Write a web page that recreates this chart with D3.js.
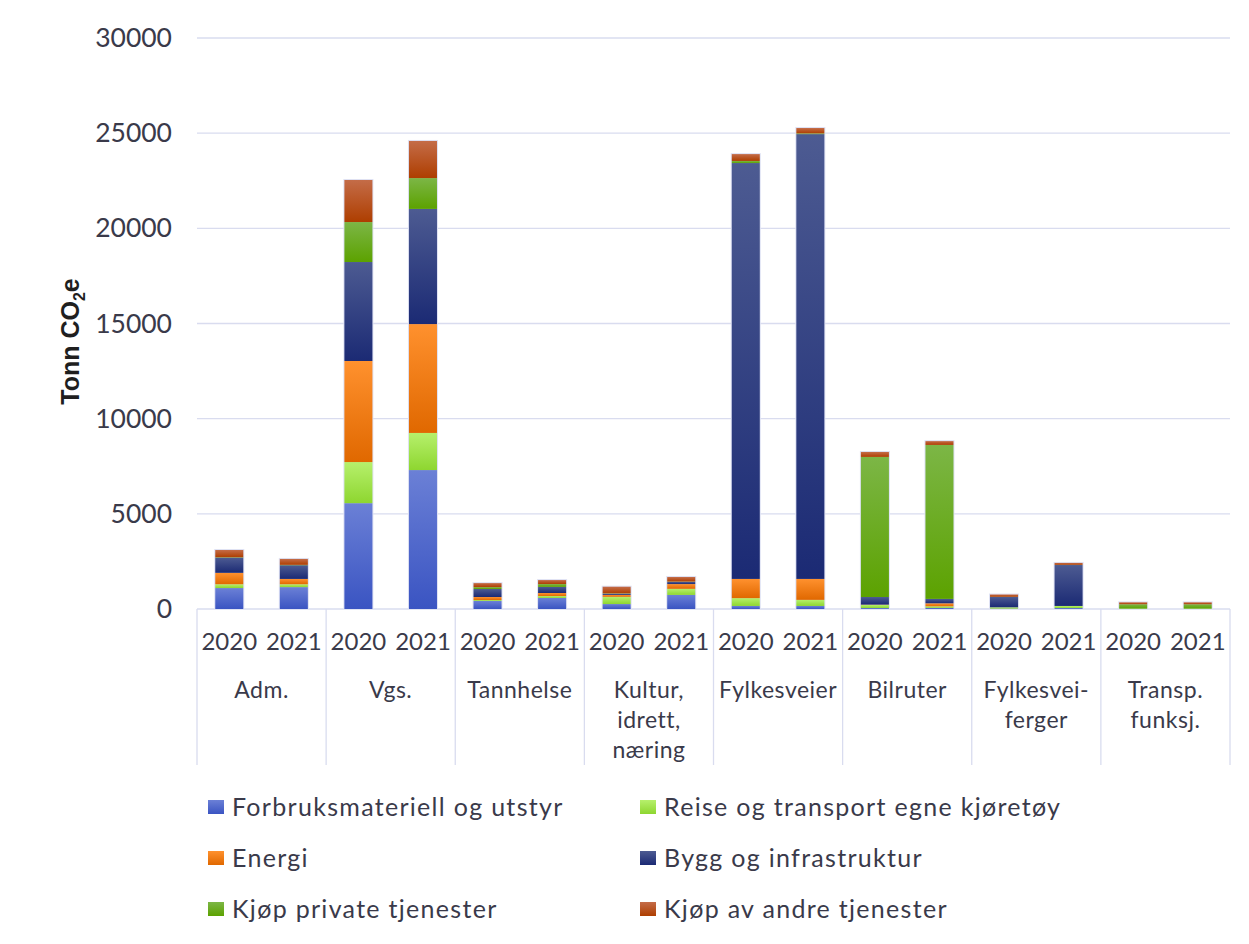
<!DOCTYPE html>
<html lang="no">
<head>
<meta charset="UTF-8">
<title>Tonn CO2e per sektor</title>
<script src="https://d3js.org/d3.v7.min.js"></script>
<style>
  body { margin: 0; background: #fff; }
  text { font-family: Lato, "Noto Sans", sans-serif; fill: #3a3a4a; }
  .ytitle { font-family: "Liberation Sans", Arial, sans-serif; font-weight: bold; fill: #1f1f1f; }
</style>
</head>
<body>
<div id="chart"></div>
<script>
// categories and years
const categories = [["Adm."], ["Vgs."], ["Tannhelse"], ["Kultur,", "idrett,", "næring"], ["Fylkesveier"], ["Bilruter"], ["Fylkesvei-", "ferger"], ["Transp.", "funksj."]];
const years = ["2020", "2021"];
const yTicks = [0, 5000, 10000, 15000, 20000, 25000, 30000];

// series, two values per category (2020, 2021)
const seriesNames = ["Forbruksmateriell og utstyr", "Reise og transport egne kjøretøy", "Energi", "Bygg og infrastruktur", "Kjøp private tjenester", "Kjøp av andre tjenester"];
const forbruk   = [1100, 1150, 5560, 7300, 420, 580, 260, 740, 160, 160, 50, 60, 20, 50, 0, 0];
const reise     = [200, 150, 2160, 1950, 50, 100, 380, 320, 410, 320, 160, 80, 70, 110, 20, 20];
const energi    = [600, 280, 5310, 5720, 160, 160, 100, 250, 1010, 1100, 20, 160, 0, 0, 0, 0];
const bygg      = [800, 720, 5200, 6050, 420, 320, 60, 110, 21850, 23370, 400, 230, 540, 2150, 0, 0];
const privat    = [20, 20, 2100, 1620, 100, 150, 20, 20, 110, 40, 7360, 8090, 10, 10, 230, 230];
const andre     = [380, 310, 2210, 1950, 210, 210, 350, 240, 360, 280, 260, 200, 120, 100, 100, 100];
const seriesValues = [forbruk, reise, energi, bygg, privat, andre];

const gradTop = ["#6b80d6", "#b6f06c", "#ff912e", "#4d5b92", "#7cb646", "#c46c48"];
const gradBot = ["#3a54c2", "#8ed630", "#e06800", "#1b2a74", "#5ca200", "#ae3e00"];

const W = 1249, H = 944;
const plot = { left: 197, right: 1230, top: 38, bottom: 609 };

const svg = d3.select("#chart").append("svg")
  .attr("width", W).attr("height", H);

const defs = svg.append("defs");
seriesNames.forEach((s, i) => {
  const g = defs.append("linearGradient").attr("id", "g" + i)
    .attr("x1", 0).attr("y1", 0).attr("x2", 0).attr("y2", 1);
  g.append("stop").attr("offset", "0%").attr("stop-color", gradTop[i]);
  g.append("stop").attr("offset", "100%").attr("stop-color", gradBot[i]);
});

const y = d3.scaleLinear().domain([0, 30000]).range([plot.bottom, plot.top]);
const x0 = d3.scaleBand().domain(d3.range(categories.length)).range([plot.left, plot.right]);
const x1 = d3.scaleBand().domain(years).range([0, x0.bandwidth()]).paddingInner(0.566).paddingOuter(0.283);

// gridlines
svg.append("g").selectAll("line").data(yTicks).join("line")
  .attr("x1", plot.left).attr("x2", plot.right)
  .attr("y1", d => y(d)).attr("y2", d => y(d))
  .attr("stroke", "#d9dcef").attr("stroke-width", 1.3);

// y tick labels
svg.append("g").selectAll("text").data(yTicks).join("text")
  .attr("x", 172).attr("y", d => y(d) + 9)
  .attr("text-anchor", "end").style("font-size", "26.5px")
  .text(d => d);

// y title
svg.append("text").attr("class", "ytitle")
  .attr("transform", `translate(79,${(plot.top + plot.bottom) / 2 + 18}) rotate(-90)`)
  .attr("text-anchor", "middle").style("font-size", "25px")
  .html('Tonn CO<tspan dy="6" style="font-size:16px">2</tspan><tspan dy="-6">e</tspan>');

// category separators
const bounds = d3.range(categories.length + 1).map(i => i < categories.length ? x0(i) : plot.right);
svg.append("g").selectAll("line").data(bounds).join("line")
  .attr("x1", d => d).attr("x2", d => d)
  .attr("y1", plot.bottom).attr("y2", 765)
  .attr("stroke", "#d9dcef").attr("stroke-width", 1.3);

// stacked bars
const rows = [];
categories.forEach((c, ci) => years.forEach((yr, yi) => {
  const idx = ci * 2 + yi;
  let acc = 0;
  const segs = seriesValues.map((arr, si) => {
    const s = { si, y0: acc, y1: acc + arr[idx] };
    acc += arr[idx];
    return s;
  });
  rows.push({ ci, yr, segs, total: acc });
}));

const barG = svg.append("g").selectAll("g").data(rows).join("g")
  .attr("transform", d => `translate(${x0(d.ci) + x1(d.yr)},0)`);

barG.append("rect")
  .attr("x", -1).attr("width", x1.bandwidth() + 2)
  .attr("y", d => y(d.total) - 1).attr("height", d => y(0) - y(d.total) + 1)
  .attr("fill", "#dfe2f4");

barG.selectAll("rect.seg").data(d => d.segs.filter(s => s.y1 > s.y0)).join("rect")
  .attr("class", "seg")
  .attr("x", 0).attr("width", x1.bandwidth())
  .attr("y", s => y(s.y1)).attr("height", s => y(s.y0) - y(s.y1))
  .attr("fill", s => `url(#g${s.si})`);

// year labels
svg.append("g").selectAll("text").data(rows).join("text")
  .attr("x", d => x0(d.ci) + x1(d.yr) + x1.bandwidth() / 2)
  .attr("y", 650).attr("text-anchor", "middle").style("font-size", "24px")
  .text(d => d.yr);

// category labels
const catG = svg.append("g").selectAll("text").data(categories).join("text")
  .attr("x", (d, i) => x0(i) + x0.bandwidth() / 2)
  .attr("y", 698).attr("text-anchor", "middle")
  .style("font-size", "23px").style("letter-spacing", "0.5px");
catG.selectAll("tspan").data(d => d).join("tspan")
  .attr("x", function () { return d3.select(this.parentNode).attr("x"); })
  .attr("dy", (d, i) => i === 0 ? 0 : 30)
  .text(d => d);

// legend
const legend = svg.append("g").selectAll("g").data(seriesNames).join("g")
  .attr("transform", (d, i) => `translate(${i % 2 === 0 ? 208 : 640},${807 + Math.floor(i / 2) * 51})`);
legend.append("rect").attr("x", 0).attr("y", -7).attr("width", 16).attr("height", 14)
  .attr("fill", (d, i) => `url(#g${i})`);
legend.append("text").attr("x", 24).attr("y", 9)
  .style("font-size", "25px").style("letter-spacing", "1.3px").text(d => d);
</script>
</body>
</html>
